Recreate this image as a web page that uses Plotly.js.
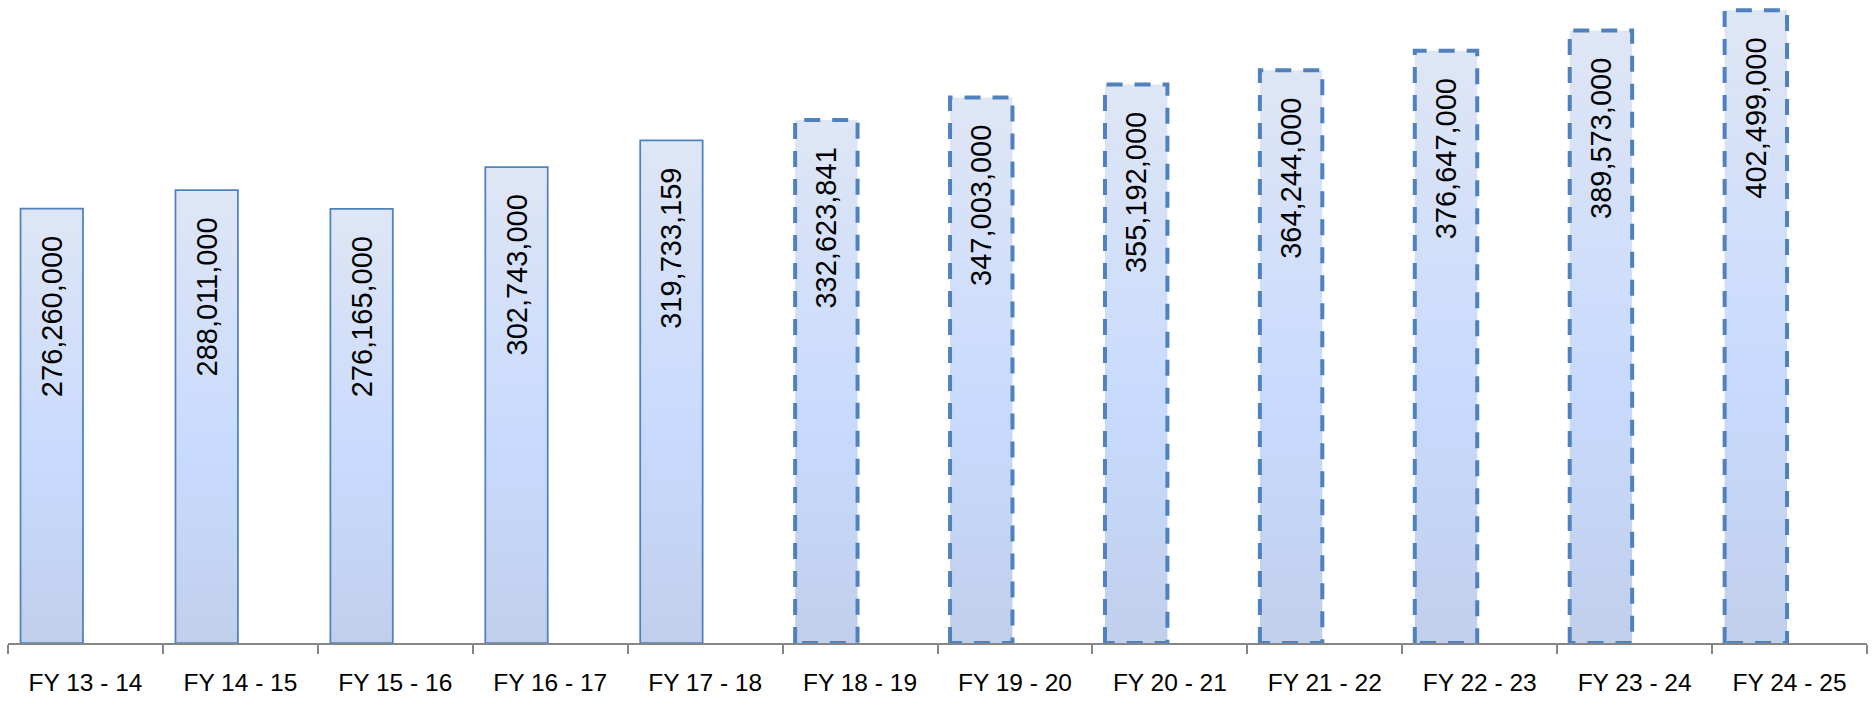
<!DOCTYPE html>
<html>
<head>
<meta charset="utf-8">
<script src="https://cdn.plot.ly/plotly-3.0.1.min.js"></script>
<style>
  html, body { margin: 0; padding: 0; background: #ffffff; }
  #chart { width: 1874px; height: 707px; }
</style>
</head>
<body>
<div id="chart"></div>
<script>
// ---- data ----
const categories = ["FY 13 - 14", "FY 14 - 15", "FY 15 - 16", "FY 16 - 17", "FY 17 - 18",
                    "FY 18 - 19", "FY 19 - 20", "FY 20 - 21", "FY 21 - 22", "FY 22 - 23",
                    "FY 23 - 24", "FY 24 - 25"];
const actualYears = ["FY 13 - 14", "FY 14 - 15", "FY 15 - 16", "FY 16 - 17", "FY 17 - 18"];
const actualValues = [276260000, 288011000, 276165000, 302743000, 319733159];
const projectedYears = ["FY 18 - 19", "FY 19 - 20", "FY 20 - 21", "FY 21 - 22", "FY 22 - 23",
                        "FY 23 - 24", "FY 24 - 25"];
const projectedValues = [332623841, 347003000, 355192000, 364244000, 376647000, 389573000, 402499000];

const barBlue = '#4f81bd';
const labelFont = { family: 'Liberation Sans, Arial, sans-serif', size: 29, color: '#000000' };
const pad = '\u00a0\u00a0\u00a0';

const common = {
  type: 'bar',
  offset: -0.419,
  width: 0.403,
  texttemplate: '%{y:,}' + pad,
  textposition: 'inside',
  insidetextanchor: 'end',
  textangle: -90,
  textfont: labelFont,
  hoverinfo: 'x+y',
  showlegend: false
};

const traces = [
  Object.assign({}, common, {
    x: actualYears, y: actualValues,
    marker: { color: '#cfdcf6', line: { color: barBlue, width: 1.75 } }
  }),
  Object.assign({}, common, {
    x: projectedYears, y: projectedValues,
    marker: { color: '#cfdcf6', line: { color: barBlue, width: 4 } }
  })
];

const layout = {
  width: 1874, height: 707,
  margin: { l: 8, r: 7, t: 0, b: 64 },
  paper_bgcolor: '#ffffff', plot_bgcolor: '#ffffff',
  barmode: 'overlay',
  xaxis: {
    type: 'category',
    categoryorder: 'array', categoryarray: categories,
    range: [-0.5, 11.5],
    showline: true, linecolor: '#868686', linewidth: 2,
    ticks: 'outside', tickson: 'boundaries', ticklen: 9, tickwidth: 2, tickcolor: '#868686',
    tickfont: { family: 'Liberation Sans, Arial, sans-serif', size: 24.5, color: '#000000' },
    ticklabelstandoff: 17,
    showgrid: false, zeroline: false, fixedrange: true
  },
  yaxis: {
    range: [0, 409000000],
    showgrid: false, zeroline: false, showticklabels: false, showline: false,
    ticks: '', fixedrange: true
  }
};

Plotly.newPlot('chart', traces, layout, { displayModeBar: false, staticPlot: true }).then(gd => {
  const ns = 'http://www.w3.org/2000/svg';
  const svg = gd.querySelector('.main-svg');
  let defs = svg.querySelector('defs');
  if (!defs) { defs = document.createElementNS(ns, 'defs'); svg.insertBefore(defs, svg.firstChild); }
  const grad = document.createElementNS(ns, 'linearGradient');
  grad.setAttribute('id', 'barGrad');
  grad.setAttribute('x1', '0'); grad.setAttribute('y1', '0');
  grad.setAttribute('x2', '0'); grad.setAttribute('y2', '1');
  [['0', '#dfe6f5'], ['0.58', '#c8dafd'], ['1', '#c1cfeb']].forEach(([o, c]) => {
    const s = document.createElementNS(ns, 'stop');
    s.setAttribute('offset', o); s.setAttribute('stop-color', c);
    grad.appendChild(s);
  });
  defs.appendChild(grad);
  gd.querySelectorAll('.barlayer .trace').forEach((tr, i) => {
    tr.querySelectorAll('.point path').forEach(p => {
      p.style.fill = 'url(#barGrad)';
      if (i === 1) { p.style.strokeDasharray = '16 12'; }
    });
  });
});
</script>
</body>
</html>
